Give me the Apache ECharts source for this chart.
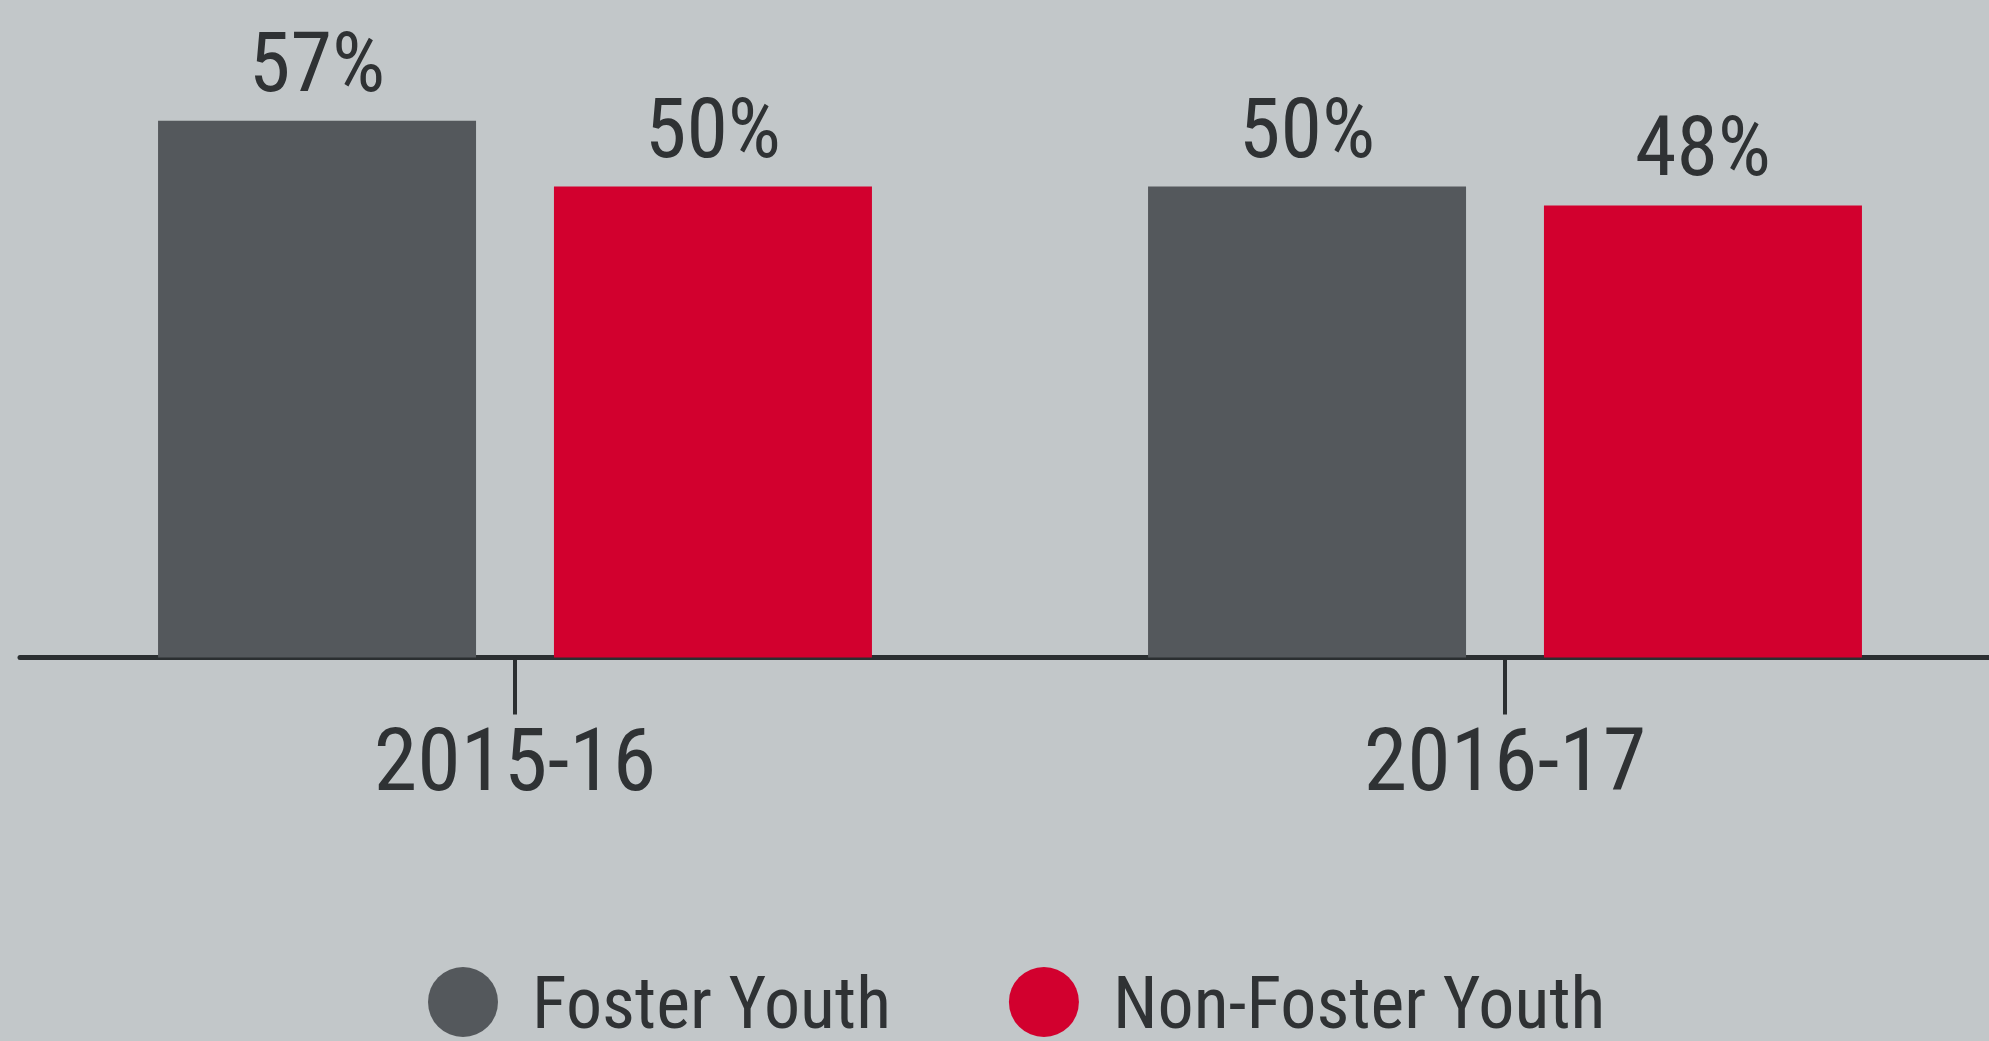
<!DOCTYPE html>
<html>
<head>
<meta charset="UTF-8">
<title>Foster Youth</title>
<style>
  html, body { margin: 0; padding: 0; background: #c2c7c9; overflow: hidden; }
  #main { width: 2000px; height: 1041px; }
</style>
</head>
<body>
<div id="main"></div>
<script src="https://cdn.jsdelivr.net/npm/echarts@6/dist/echarts.min.js"></script>
<script>
var years = ['2015-16', '2016-17'];
var fosterYouth = [57, 50];
var nonFosterYouth = [50, 48];
var seriesNames = ['Foster Youth', 'Non-Foster Youth'];

var font = '"Roboto Condensed", "Liberation Sans Narrow", "DejaVu Sans Condensed", Roboto, sans-serif';
var textColor = '#2f3234';

var chart = echarts.init(document.getElementById('main'));
var labelStyle = {
  show: true,
  position: 'top',
  distance: 9,
  formatter: '{c}%',
  fontFamily: font,
  fontSize: 84,
  color: textColor
};
var option = {
  backgroundColor: '#c2c7c9',
  animation: false,
  grid: { left: 20, right: 0, top: 92.4, bottom: 383.5 },
  legend: {
    left: 423,
    top: 962,
    icon: 'circle',
    itemWidth: 70,
    itemHeight: 70,
    itemGap: 118,
    formatter: '{t|{name}}',
    textStyle: {
      fontFamily: font, fontSize: 72, color: textColor,
      rich: { t: { fontFamily: font, fontSize: 72, color: textColor, padding: [16, 0, 0, 29] } }
    },
    data: seriesNames
  },
  xAxis: {
    type: 'category',
    data: years,
    axisLine: { lineStyle: { color: '#2b2f31', width: 5 } },
    axisTick: { show: true, alignWithLabel: true, length: 57, lineStyle: { color: '#2b2f31', width: 4 } },
    axisLabel: { margin: 66, fontFamily: font, fontSize: 88, color: textColor }
  },
  yAxis: { type: 'value', min: 0, max: 60, show: false },
  series: [
    {
      name: seriesNames[0], type: 'bar', data: fosterYouth,
      barWidth: 318, barGap: '24.5%',
      itemStyle: { color: '#54585c' },
      label: labelStyle
    },
    {
      name: seriesNames[1], type: 'bar', data: nonFosterYouth,
      barWidth: 318,
      itemStyle: { color: '#d2002e' },
      label: labelStyle
    }
  ]
};
chart.setOption(option);
</script>
</body>
</html>
